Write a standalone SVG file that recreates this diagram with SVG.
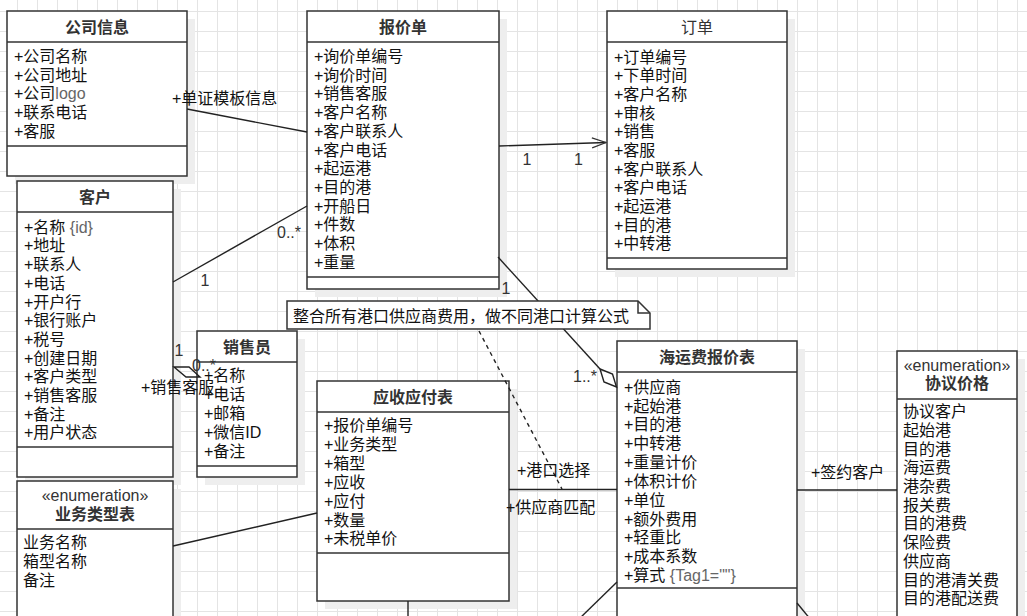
<svg xmlns="http://www.w3.org/2000/svg" width="1027" height="616" viewBox="0 0 1027 616">
<defs>
<pattern id="grid" x="17" y="11" width="20" height="20" patternUnits="userSpaceOnUse">
<path d="M0,0.5 H20 M0.5,0 V20" fill="none" stroke="#e4e4e4" stroke-width="1"/>
</pattern>
<marker id="open" markerWidth="16" markerHeight="12" refX="15" refY="6" orient="auto" markerUnits="userSpaceOnUse">
<path d="M1,1 L15,6 L1,11" fill="none" stroke="#333" stroke-width="1.3"/>
</marker>
</defs>
<style>
text{font-family:"Liberation Sans","Noto Sans CJK SC",sans-serif;font-size:16px;fill:#111}
.t{font-weight:bold;text-anchor:middle;fill:#333}
.st{text-anchor:middle;fill:#333}
.g{fill:#666}
.lb{fill:#333}
.m{text-anchor:middle;fill:#333}
.box{fill:#fff;stroke:#333;stroke-width:1.5}
.sh{fill:#eeeeee}
.ln{stroke:#333;stroke-width:1.5;fill:none}
.edge{stroke:#222;stroke-width:1.4;fill:none}
</style>
<rect width="1027" height="616" fill="#fff"/>
<rect width="1027" height="616" fill="url(#grid)"/>

<g id="n-company">
<rect class="sh" x="15" y="19" width="180" height="165"/>
<rect class="box" x="7" y="11" width="180" height="165"/>
<line class="ln" x1="7" y1="42" x2="187" y2="42"/>
<line class="ln" x1="7" y1="146" x2="187" y2="146"/>
<text class="t" x="97" y="33">公司信息</text>
<text x="14" y="62">+公司名称</text>
<text x="14" y="80.7">+公司地址</text>
<text x="14" y="99.4">+公司<tspan class="g">logo</tspan></text>
<text x="14" y="118.1">+联系电话</text>
<text x="14" y="136.8">+客服</text>
</g>

<g id="n-quote">
<rect class="sh" x="315" y="19" width="192" height="278"/>
<rect class="box" x="307" y="11" width="192" height="278"/>
<line class="ln" x1="307" y1="42" x2="499" y2="42"/>
<line class="ln" x1="307" y1="277" x2="499" y2="277"/>
<text class="t" x="403" y="33">报价单</text>
<text x="314" y="62">+询价单编号</text>
<text x="314" y="80.7">+询价时间</text>
<text x="314" y="99.4">+销售客服</text>
<text x="314" y="118.1">+客户名称</text>
<text x="314" y="136.8">+客户联系人</text>
<text x="314" y="155.5">+客户电话</text>
<text x="314" y="174.2">+起运港</text>
<text x="314" y="192.9">+目的港</text>
<text x="314" y="211.6">+开船日</text>
<text x="314" y="230.3">+件数</text>
<text x="314" y="249">+体积</text>
<text x="314" y="267.7">+重量</text>
</g>

<g id="n-order">
<rect class="sh" x="615" y="19" width="180" height="258"/>
<rect class="box" x="607" y="11" width="180" height="258"/>
<line class="ln" x1="607" y1="42" x2="787" y2="42"/>
<line class="ln" x1="607" y1="258" x2="787" y2="258"/>
<text class="st" x="697" y="33">订单</text>
<text x="614" y="62.7">+订单编号</text>
<text x="614" y="81.4">+下单时间</text>
<text x="614" y="100">+客户名称</text>
<text x="614" y="118.7">+审核</text>
<text x="614" y="137.4">+销售</text>
<text x="614" y="156">+客服</text>
<text x="614" y="174.7">+客户联系人</text>
<text x="614" y="193.4">+客户电话</text>
<text x="614" y="212">+起运港</text>
<text x="614" y="230.7">+目的港</text>
<text x="614" y="249.4">+中转港</text>
</g>

<g id="n-customer">
<rect class="sh" x="25" y="189" width="156" height="296"/>
<rect class="box" x="17" y="181" width="156" height="296"/>
<line class="ln" x1="17" y1="212" x2="173" y2="212"/>
<line class="ln" x1="17" y1="447" x2="173" y2="447"/>
<text class="t" x="95" y="202.5">客户</text>
<text x="24" y="232.7">+名称 <tspan class="g">{id}</tspan></text>
<text x="24" y="251.4">+地址</text>
<text x="24" y="270.1">+联系人</text>
<text x="24" y="288.8">+电话</text>
<text x="24" y="307.5">+开户行</text>
<text x="24" y="326.2">+银行账户</text>
<text x="24" y="344.9">+税号</text>
<text x="24" y="363.6">+创建日期</text>
<text x="24" y="382.3">+客户类型</text>
<text x="24" y="401">+销售客服</text>
<text x="24" y="419.7">+备注</text>
<text x="24" y="438.4">+用户状态</text>
</g>

<g id="n-sales">
<rect class="sh" x="205" y="339" width="100" height="146"/>
<rect class="box" x="197" y="331" width="100" height="146"/>
<line class="ln" x1="197" y1="362" x2="297" y2="362"/>
<line class="ln" x1="197" y1="466" x2="297" y2="466"/>
<text class="t" x="247" y="352.5">销售员</text>
<text x="204" y="381">+名称</text>
<text x="204" y="400">+电话</text>
<text x="204" y="419">+邮箱</text>
<text x="204" y="438">+微信ID</text>
<text x="204" y="457">+备注</text>
</g>

<g id="n-biztype">
<rect class="sh" x="25" y="489" width="156" height="140"/>
<rect class="box" x="17" y="481" width="156" height="150"/>
<line class="ln" x1="17" y1="529" x2="173" y2="529"/>
<text class="st" x="95" y="500.5">«enumeration»</text>
<text class="t" x="95" y="520">业务类型表</text>
<text x="23" y="547.5">业务名称</text>
<text x="23" y="566.5">箱型名称</text>
<text x="23" y="585.5">备注</text>
</g>

<g id="n-arap">
<rect class="sh" x="325" y="389" width="192" height="220"/>
<rect class="box" x="317" y="381" width="192" height="220"/>
<line class="ln" x1="317" y1="412" x2="509" y2="412"/>
<line class="ln" x1="317" y1="553" x2="509" y2="553"/>
<text class="t" x="413" y="402.5">应收应付表</text>
<text x="324" y="431">+报价单编号</text>
<text x="324" y="449.9">+业务类型</text>
<text x="324" y="468.8">+箱型</text>
<text x="324" y="487.7">+应收</text>
<text x="324" y="506.6">+应付</text>
<text x="324" y="525.5">+数量</text>
<text x="324" y="544.4">+未税单价</text>
</g>

<g id="n-freight">
<rect class="sh" x="625" y="349" width="180" height="280"/>
<rect class="box" x="617" y="341" width="180" height="290"/>
<line class="ln" x1="617" y1="372" x2="797" y2="372"/>
<line class="ln" x1="617" y1="588" x2="797" y2="588"/>
<text class="t" x="707" y="362.5">海运费报价表</text>
<text x="624" y="392.7">+供应商</text>
<text x="624" y="411.5">+起始港</text>
<text x="624" y="430.4">+目的港</text>
<text x="624" y="449.2">+中转港</text>
<text x="624" y="468">+重量计价</text>
<text x="624" y="486.9">+体积计价</text>
<text x="624" y="505.7">+单位</text>
<text x="624" y="524.5">+额外费用</text>
<text x="624" y="543.3">+轻重比</text>
<text x="624" y="562.2">+成本系数</text>
<text x="624" y="581">+算式 <tspan class="g">{Tag1=""}</tspan></text>
</g>

<g id="n-agreement">
<rect class="sh" x="905" y="359" width="120" height="270"/>
<rect class="box" x="897" y="351" width="120" height="280"/>
<line class="ln" x1="897" y1="399" x2="1017" y2="399"/>
<text class="st" x="957" y="370.5">«enumeration»</text>
<text class="t" x="957" y="389.3">协议价格</text>
<text x="903" y="417">协议客户</text>
<text x="903" y="435.7">起始港</text>
<text x="903" y="454.5">目的港</text>
<text x="903" y="473.2">海运费</text>
<text x="903" y="491.9">港杂费</text>
<text x="903" y="510.7">报关费</text>
<text x="903" y="529.4">目的港费</text>
<text x="903" y="548.1">保险费</text>
<text x="903" y="566.8">供应商</text>
<text x="903" y="585.6">目的港清关费</text>
<text x="903" y="604.3">目的港配送费</text>
</g>

<g id="connectors">
<line class="edge" x1="187" y1="109" x2="307" y2="132"/>
<line class="edge" x1="499" y1="146" x2="606" y2="142.5" marker-end="url(#open)"/>
<line class="edge" x1="173" y1="282" x2="307" y2="206"/>
<polygon class="edge" fill="#fff" points="174,367 189,367 200,377 186,377"/>
<line class="edge" x1="173" y1="546" x2="317" y2="513"/>
<line class="edge" x1="509" y1="489.5" x2="617" y2="489.5"/>
<line class="edge" x1="479" y1="331" x2="562" y2="489" stroke-dasharray="4,4"/>
<line class="edge" x1="498" y1="257" x2="600" y2="369"/>
<polygon class="edge" fill="#fff" points="600,369 612.5,374 616.5,387 604,382"/>
<line class="edge" x1="797" y1="490" x2="897" y2="490"/>
<line class="edge" x1="408" y1="601" x2="408" y2="620"/>
<line class="edge" x1="617" y1="582" x2="578" y2="620"/>
<line class="edge" x1="797" y1="603" x2="811" y2="620"/>
</g>

<g id="n-note">
<path d="M287,301 H638 L650,313 V329 H287 Z" fill="#fff" stroke="#333" stroke-width="1.5"/>
<path d="M638,301 V313 H650" fill="none" stroke="#333" stroke-width="1.5"/>
<text x="293" y="322">整合所有港口供应商费用，做不同港口计算公式</text>
</g>

<g id="labels">
<text x="172" y="103.5">+单证模板信息</text>
<text class="m" x="527" y="165">1</text>
<text class="m" x="578.5" y="165">1</text>
<text class="lb" x="277" y="238">0..*</text>
<text class="m" x="205" y="286">1</text>
<text class="m" x="179" y="356">1</text>
<text class="lb" x="192" y="371">0..*</text>
<text x="141" y="393">+销售客服</text>
<text class="m" x="506" y="294">1</text>
<text class="lb" x="573" y="382">1..*</text>
<text x="517" y="476">+港口选择</text>
<text x="506" y="513">+供应商匹配</text>
<text x="811" y="477.5">+签约客户</text>
</g>
</svg>
